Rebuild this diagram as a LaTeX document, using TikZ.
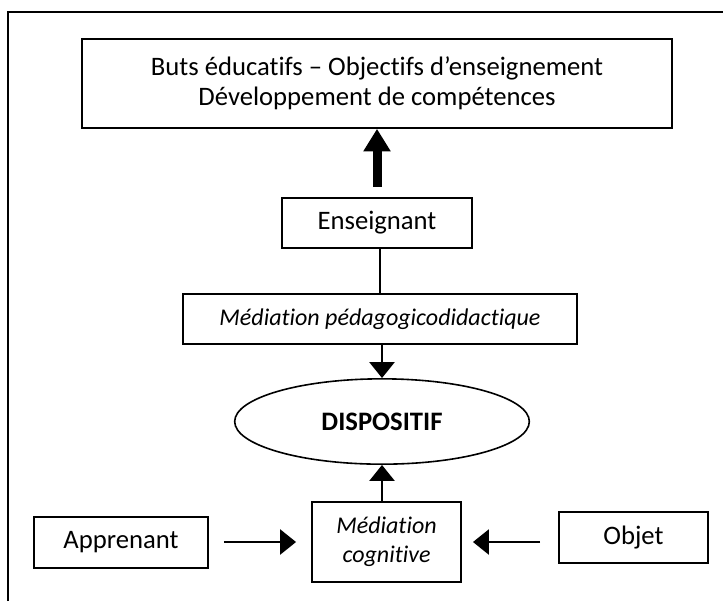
\documentclass[tikz,border=0pt]{standalone}
\usepackage{fontspec}
\setmainfont{Carlito}[Ligatures=NoCommon]
\usetikzlibrary{arrows.meta,shapes.geometric}

\begin{document}
\begin{tikzpicture}[x=0.75pt,y=-0.75pt]

	\tikzstyle{boite}=[draw, line width=1.2pt, inner sep=0pt, align=center, font=\fontsize{20}{22.5}\selectfont]
	\tikzstyle{penche}=[font=\fontsize{18}{21.5}\selectfont\itshape]
	\tikzstyle{fleche}=[line width=1.2pt, -{Triangle[length=12pt,width=19pt]}]
	\tikzstyle{grosse}=[line width=6.75pt, -{Triangle[length=17pt,width=19.5pt]}]

	\useasboundingbox (0,0) rectangle (723,601);
	\draw[line width=1.3pt] (8,601) -- (8,12) -- (723,12); % CADRE

	\coordinate (c_buts) at (377,83.5); % BUTS
	\coordinate (c_ens) at (377,223); % ENSEIGNANT
	\coordinate (c_ped) at (380,319); % MEDIATION PEDAGOGIQUE
	\coordinate (c_disp) at (382,421.5); % DISPOSITIF
	\coordinate (c_cog) at (386.5,542); % MEDIATION COGNITIVE
	\coordinate (c_app) at (121,542.5); % APPRENANT
	\coordinate (c_obj) at (633.5,537.5); % OBJET

	\node[boite, minimum width=442.5pt, minimum height=66.75pt] (buts) at (c_buts) {Buts éducatifs – Objectifs d’enseignement\\Développement de compétences};
	\node[boite, minimum width=142.5pt, minimum height=37.5pt] (ens) at (c_ens) {Enseignant};
	\node[boite, penche, minimum width=295.5pt, minimum height=37.5pt] (ped) at (c_ped) {Médiation pédagogicodidactique};
	\node[boite, ellipse, minimum width=221pt, minimum height=64pt] (disp) at (c_disp) {\bfseries DISPOSITIF};
	\node[boite, penche, minimum width=112pt, minimum height=60pt] (cog) at (c_cog) {Médiation\\cognitive};
	\node[boite, minimum width=130.5pt, minimum height=38pt] (app) at (c_app) {Apprenant};
	\node[boite, minimum width=112pt, minimum height=38pt] (obj) at (c_obj) {Objet};

	\draw[grosse, shorten <=8pt] (ens) -- (buts);
	\draw[line width=1.2pt] (ped.north |- ens.south) -- (ped.north);
	\draw[fleche] (disp.north |- ped.south) -- (disp.north);
	\draw[fleche] (disp.south |- cog.north) -- (disp.south);

	\draw[fleche, shorten <=11.25pt, shorten >=11.25pt] (app.east |- cog.west) -- (cog.west);
	\draw[fleche, shorten <=13.5pt, shorten >=8.25pt] (obj.west |- cog.east) -- (cog.east);
\end{tikzpicture}
\end{document}
